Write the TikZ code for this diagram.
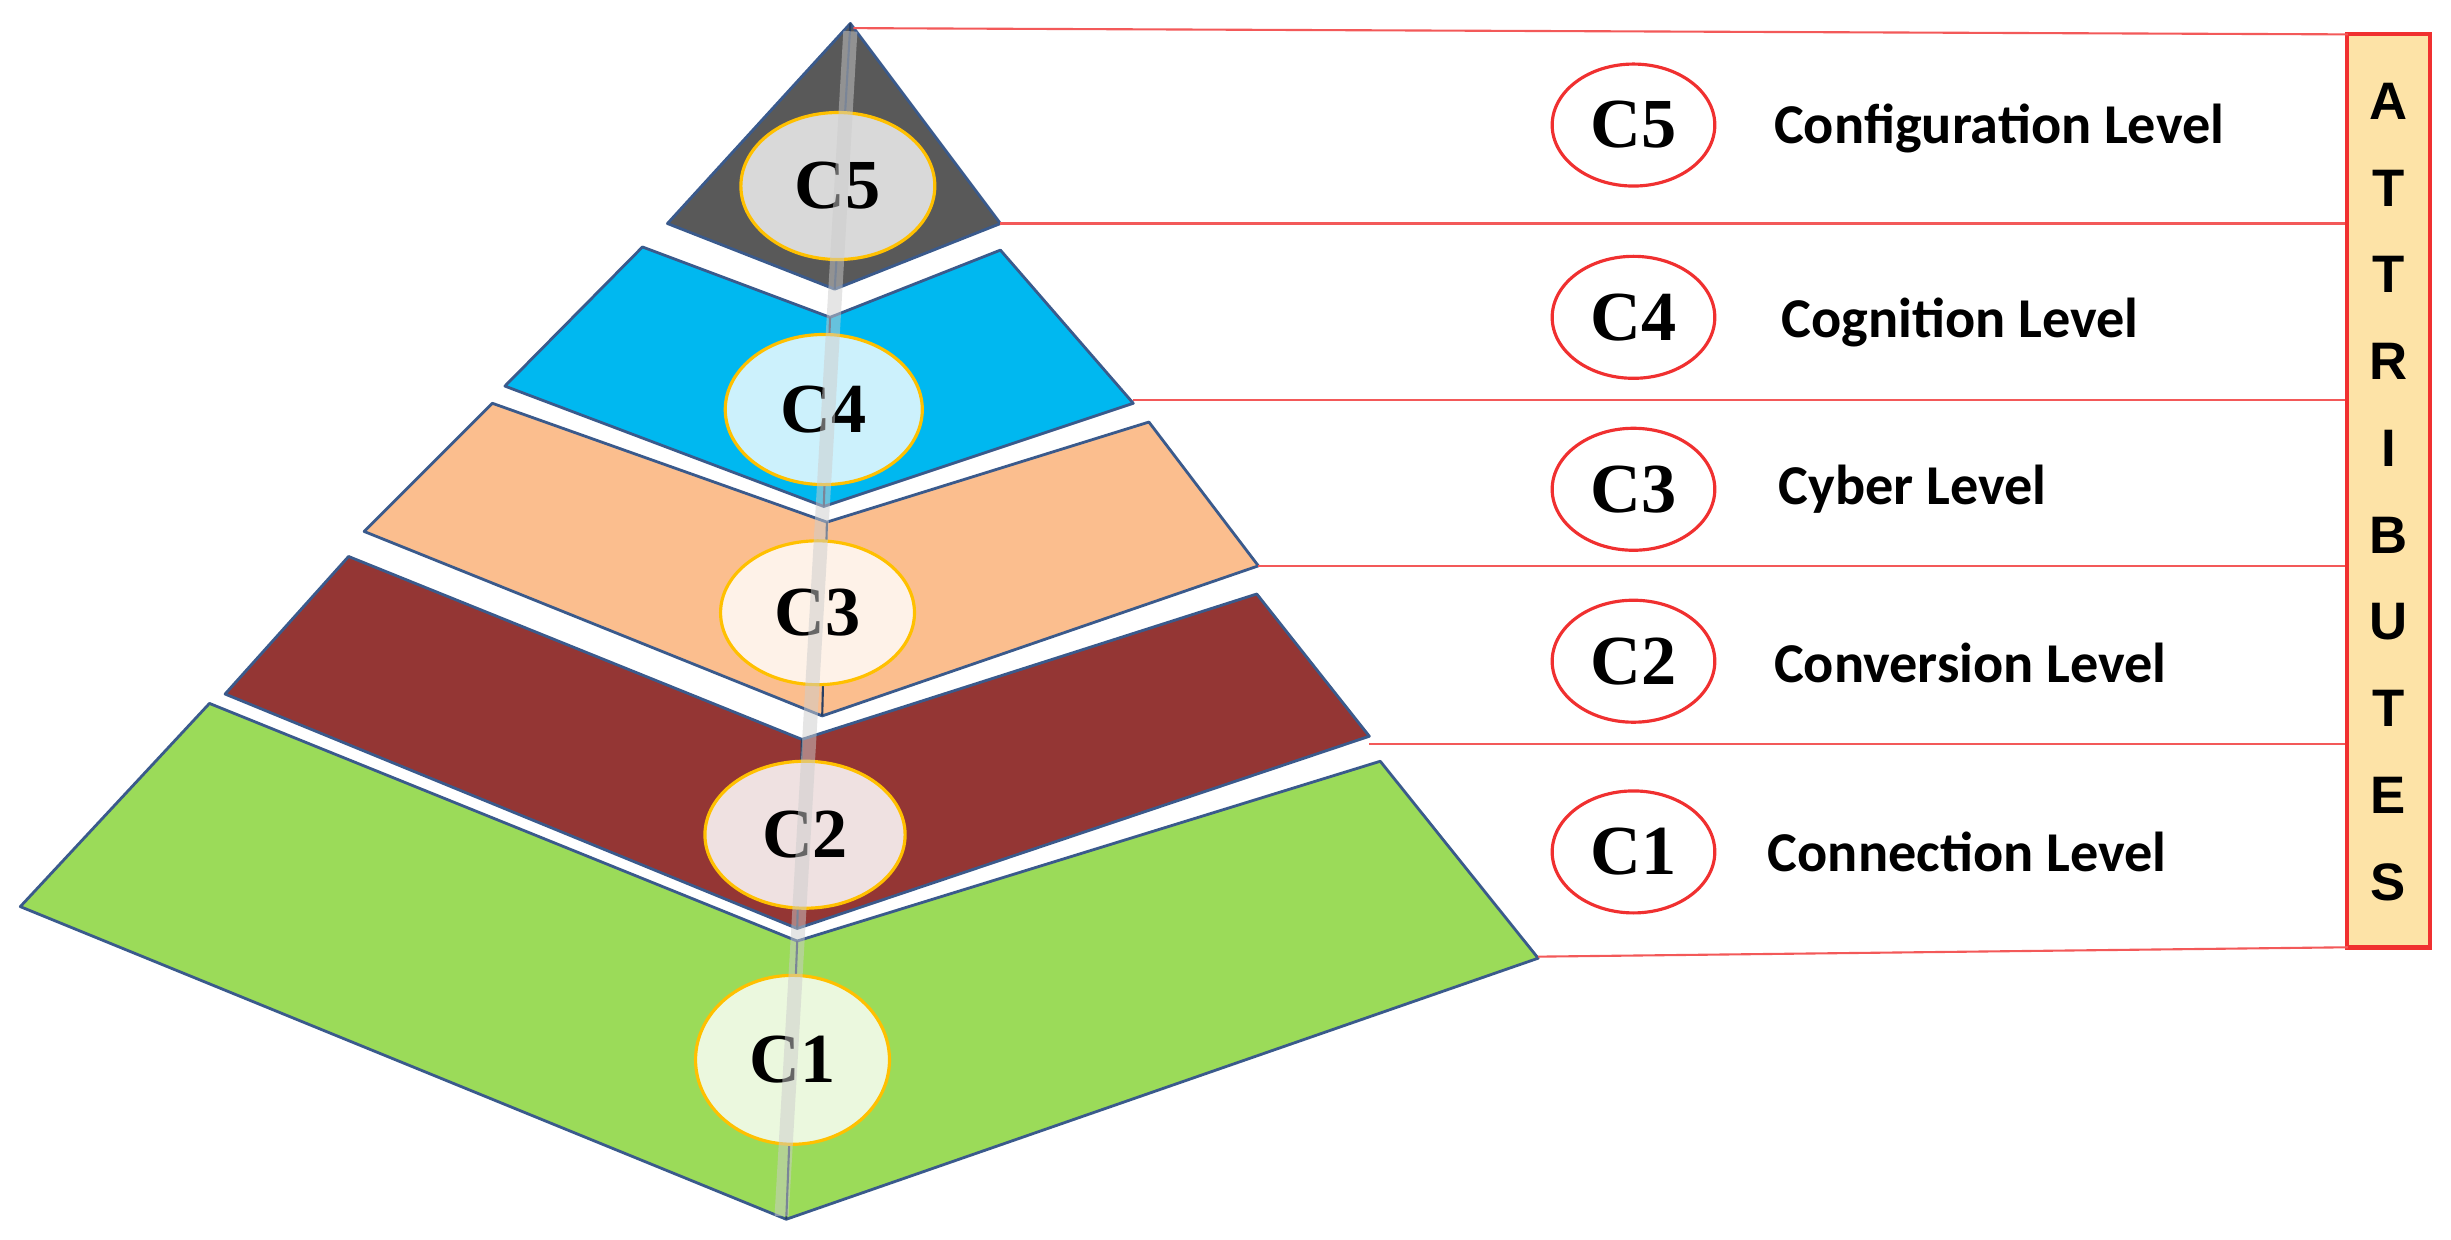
\documentclass[tikz,border=0pt]{standalone}
\usepackage{fontspec}
\setmainfont{Liberation Serif}
\newfontfamily\lblfont{Carlito}
\newfontfamily\attfont{Liberation Sans}
\usetikzlibrary{shapes.geometric}
\begin{document}
\begin{tikzpicture}[x=0.015631cm,y=-0.015631cm,
  band/.style={draw=edge,line width=0.8pt,line join=round},
  seam/.style={draw=edge!70!black,line width=0.6pt},
  cin/.style={ellipse,draw=gold,line width=0.9pt,inner sep=0pt,font=\bfseries\fontsize{20}{22}\selectfont},
  cout/.style={ellipse,draw=redl,line width=0.9pt,fill=white,minimum width={104*0.4448pt},minimum height={78*0.4448pt},inner sep=0pt,font=\bfseries\fontsize{20}{22}\selectfont},
  lab/.style={anchor=west,font=\lblfont\bfseries\fontsize{16}{18}\selectfont},
  rline/.style={draw=redl!80,line width=0.6pt}]
\definecolor{edge}{HTML}{3A5A8C}
\definecolor{gold}{HTML}{FFC000}
\definecolor{redl}{HTML}{F03030}
\definecolor{cgray}{HTML}{595959}
\definecolor{cblue}{HTML}{00B8F0}
\definecolor{cpeach}{HTML}{FBBE8E}
\definecolor{cred}{HTML}{943634}
\definecolor{cgreen}{HTML}{9BDB59}
\definecolor{attfill}{HTML}{FDE3A7}
\useasboundingbox (0,0) rectangle (1568,792.7);
% bands
\fill[cgreen,band] (134,450) -- (510,602) -- (883,487) -- (984,613) -- (503,780) -- (13,580) -- cycle;
\draw[seam] (510,602) -- (503,780);
\fill[cred,band] (223,356) -- (513,473) -- (804,380) -- (876,471) -- (510,594) -- (144,444) -- cycle;
\draw[seam] (513,473) -- (510,594);
\fill[cpeach,band] (315,258) -- (529,334) -- (735,270) -- (805,362) -- (526,458) -- (233,340) -- cycle;
\draw[seam] (529,334) -- (526,458);
\fill[cblue,band] (411,158) -- (531,203) -- (640,160) -- (725,258) -- (527,324) -- (323,247) -- cycle;
\draw[seam] (531,203) -- (527,324);
\fill[cgray,band] (544,15) -- (640,143) -- (534,185) -- (427,143) -- cycle;
\draw[seam] (544,15) -- (534,185);
% inner ellipses
\node[cin,fill=gray!30,minimum width={124*0.4448pt},minimum height={94*0.4448pt}] (i5) at (536,119) {C5};
\node[cin,fill=cblue!20,minimum width={126*0.4448pt},minimum height={96*0.4448pt}] (i4) at (527,262) {C4};
\node[cin,fill=cpeach!20,minimum width={124*0.4448pt},minimum height={92*0.4448pt}] (i3) at (523,392) {C3};
\node[cin,fill=cred!15,minimum width={128*0.4448pt},minimum height={94*0.4448pt}] (i2) at (515,534) {C2};
\node[cin,fill=cgreen!20,minimum width={124*0.4448pt},minimum height={108*0.4448pt}] (i1) at (507,678) {C1};
% translucent center bar
\coordinate (bt) at (544,20);
\coordinate (bb) at (500,778);
\draw[gray!40,opacity=0.5,line width=4pt] (bt) -- (bb);
% attributes box
\node[draw=redl,line width=1.2pt,fill=attfill,minimum width={53*0.4448pt},minimum height={584*0.4448pt},inner sep=0pt] (att) at (1528,314) {};
\foreach \l [count=\i] in {A,T,T,R,I,B,U,T,E,S}
  \node[font=\attfont\bfseries\fontsize{15}{17}\selectfont] (a\i) at (1528,{37+(\i-0.5)*55.5}) {\l};
% separator lines
\coordinate (p0) at (546,18);
\coordinate (p1) at (640,143);
\coordinate (p2) at (725,256);
\coordinate (p3) at (805,362);
\coordinate (p4) at (876,476);
\coordinate (p5) at (984,612);
\coordinate (q0) at (1502,22);
\coordinate (q5) at (1502,606);
\draw[rline] (p0) -- (q0);
\draw[rline] (p1) -- (att.west |- p1);
\draw[rline] (p2) -- (att.west |- p2);
\draw[rline] (p3) -- (att.west |- p3);
\draw[rline] (p4) -- (att.west |- p4);
\draw[rline] (p5) -- (q5);
% right ellipses and labels
\node[cout] (o5) at (1045,80) {C5};
\node[cout] (o4) at (1045,203) {C4};
\node[cout] (o3) at (1045,313) {C3};
\node[cout] (o2) at (1045,423) {C2};
\node[cout] (o1) at (1045,545) {C1};
\node[lab] (l5) at (1127,82) {Configuration Level};
\node[lab] (l4) at (1132,206) {Cognition Level};
\node[lab] (l3) at (1130,313) {Cyber Level};
\node[lab] (l2) at (1127,424) {Conversion Level};
\node[lab] (l1) at (1123,545) {Connection Level};
\end{tikzpicture}
\end{document}
